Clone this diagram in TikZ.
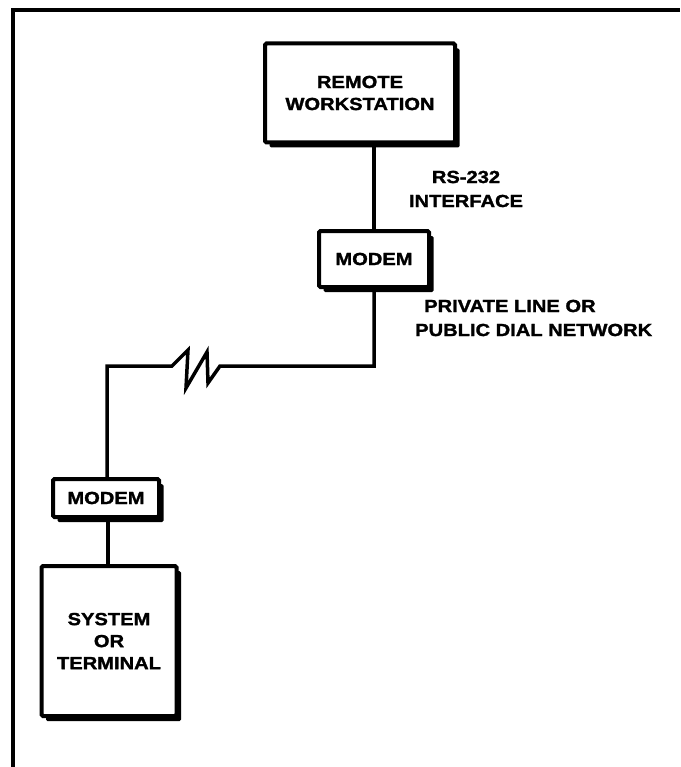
\documentclass[tikz,border=0pt]{standalone}
\usepackage{fontspec}
\setmainfont{Liberation Sans}[FakeStretch=1.15, BoldFeatures={FakeBold=1.6}]
\usetikzlibrary{shadows}
\tikzset{
  x=1pt, y=-1pt,
  sbox/.style={draw, line width=4pt, fill=white, rounded corners=1.5pt,
    inner sep=0pt, align=center, font=\bfseries\fontsize{17.5}{22}\selectfont,
    drop shadow={shadow xshift=4.5pt, shadow yshift=-5pt, fill=black, opacity=1}},
  wire/.style={line width=3.5pt},
  lbl/.style={font=\bfseries\fontsize{17.5}{24}\selectfont, inner sep=0pt}
}
\begin{document}
\begin{tikzpicture}
\useasboundingbox (0,0) rectangle (680,767);
\draw[line width=3.5pt] (13,767) -- (13,10) -- (680,10);
\node[sbox, minimum width=190pt, minimum height=99pt] (remote) at (360,93) {REMOTE\\WORKSTATION};
\node[sbox, minimum width=110pt, minimum height=56pt] (modem1) at (374,259) {MODEM};
\node[sbox, minimum width=106pt, minimum height=38pt] (modem2) at (106,498) {MODEM};
\node[sbox, minimum width=135pt, minimum height=150pt] (sys) at (109,641) {SYSTEM\\OR\\TERMINAL};
\coordinate (c1) at (374,366);
\coordinate (c2) at (107,366);
\coordinate (z1) at (172,366);
\coordinate (z2) at (188,350);
\coordinate (z3) at (186,388);
\coordinate (z4) at (207,352);
\coordinate (z5) at (208,383);
\coordinate (z6) at (220,366);
\draw[wire] (remote.south -| modem1.north) -- (modem1.north);
\draw[wire, line join=miter] (modem1.south) -- (c1) -- (z6) -- (z5) -- (z4) -- (z3) -- (z2) -- (z1) -- (c2) -- (modem2.north -| c2);
\draw[wire] (modem2.south -| 108,0) -- (sys.north -| 108,0);
\node[lbl, align=center] (rs) at (466,189) {RS-232\\INTERFACE};
\node[lbl, align=left, anchor=west] (pl) at (415,318) {\hspace*{9pt}PRIVATE LINE OR\\PUBLIC DIAL NETWORK};
\end{tikzpicture}
\end{document}
